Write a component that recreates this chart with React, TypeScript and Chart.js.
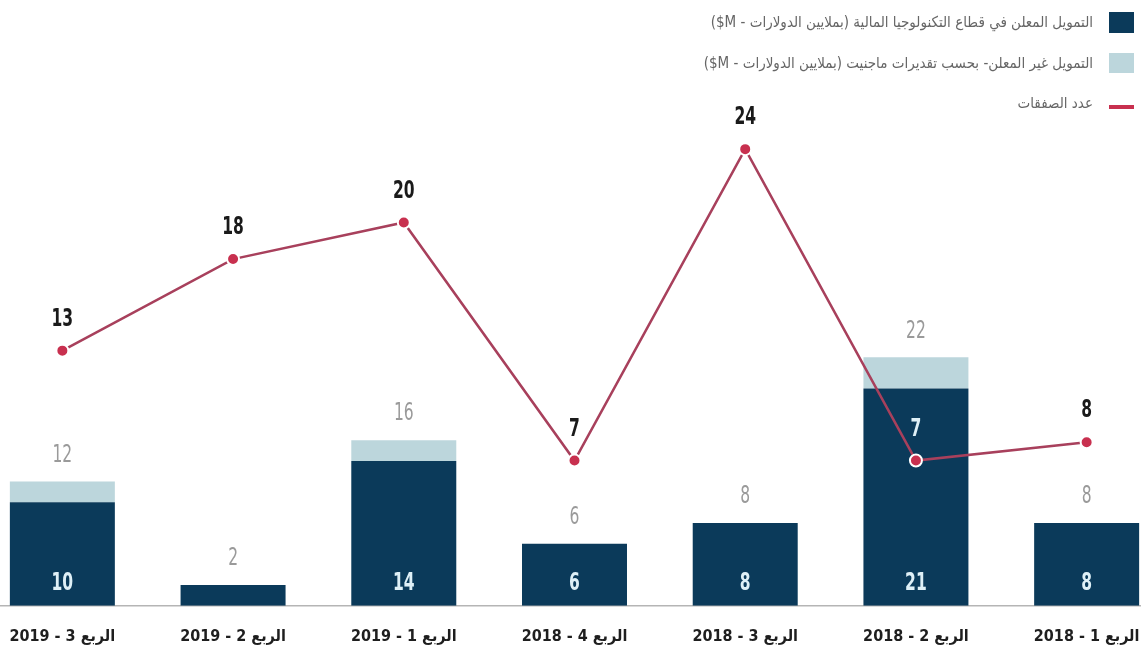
import React, { useEffect, useRef } from "react";
import { Chart, registerables } from "chart.js";
Chart.register(...registerables);

const categories = [
  "الربع 3 - 2019",
  "الربع 2 - 2019",
  "الربع 1 - 2019",
  "الربع 4 - 2018",
  "الربع 3 - 2018",
  "الربع 2 - 2018",
  "الربع 1 - 2018",
];
const disclosed = [10, 2, 14, 6, 8, 21, 8];
const undisclosed = [2, 0, 2, 0, 0, 3, 0];
const totalLabels = [12, 2, 16, 6, 8, 22, 8];
const deals = [13, 18, 20, 7, 24, 7, 8];
const seriesNames = [
  "التمويل المعلن في قطاع التكنولوجيا المالية (بملايين الدولارات - \u200E$M)",
  "التمويل غير المعلن- بحسب تقديرات ماجنيت  (بملايين الدولارات - \u200E$M)",
  "عدد الصفقات",
];

const NAVY = "#0b3a5a";
const LIGHT = "#bcd6dc";
const LINE = "#a8405c";
const DOT = "#c8304f";
const NUM_FONT = "'DejaVu Sans Condensed', 'DejaVu Sans', sans-serif";
const TICK_FONT = "'DejaVu Sans Condensed', 'DejaVu Sans', sans-serif";

function drawNum(ctx: CanvasRenderingContext2D, text: string, x: number, y: number, bold: boolean, color: string) {
  ctx.save();
  ctx.translate(x, y);
  ctx.scale(0.72, 1);
  ctx.font = (bold ? "bold " : "") + "24px " + NUM_FONT;
  ctx.fillStyle = color;
  ctx.textAlign = "center";
  ctx.textBaseline = "middle";
  ctx.fillText(text, 0, 0);
  ctx.restore();
}

export default function App() {
  const ref = useRef<HTMLCanvasElement>(null);

  useEffect(() => {
    const canvas = ref.current!;
    const labelPlugin = {
      id: "valueLabels",
      afterDatasetsDraw(chart: any) {
        const ctx = chart.ctx;
        const m0 = chart.getDatasetMeta(0);
        const m1 = chart.getDatasetMeta(1);
        const m2 = chart.getDatasetMeta(2);
        categories.forEach((_, i) => {
          const b0 = m0.data[i] as any;
          const b1 = m1.data[i] as any;
          const h = b0.base - b0.y;
          if (h > 40) {
            drawNum(ctx, String(disclosed[i]), b0.x, b0.base - 22, true, "#dff0f7");
          }
          drawNum(ctx, String(totalLabels[i]), b0.x, Math.min(b0.y, b1.y) - 26, false, "#9a9a9a");
          const p = m2.data[i] as any;
          const ly = p.y - 31;
          const onBar = ly > b0.y && ly < b0.base && Math.abs(p.x - b0.x) < 50;
          drawNum(ctx, String(deals[i]), p.x, ly, true, onBar ? "#dff0f7" : "#1a1a1a");
        });
      },
    };

    const chart = new Chart(canvas, {
      type: "bar",
      data: {
        labels: categories,
        datasets: [
          {
            type: "bar",
            label: seriesNames[0],
            data: disclosed,
            backgroundColor: NAVY,
            yAxisID: "y",
            stack: "s",
            order: 2,
            barPercentage: 1,
            categoryPercentage: 0.615,
          },
          {
            type: "bar",
            label: seriesNames[1],
            data: undisclosed,
            backgroundColor: LIGHT,
            yAxisID: "y",
            stack: "s",
            order: 2,
            barPercentage: 1,
            categoryPercentage: 0.615,
          },
          {
            type: "line",
            label: seriesNames[2],
            data: deals,
            yAxisID: "y1",
            borderColor: LINE,
            borderWidth: 2.5,
            pointRadius: 6,
            pointBackgroundColor: DOT,
            pointBorderColor: "#ffffff",
            pointBorderWidth: 2,
            tension: 0,
            order: 0,
          } as any,
        ],
      },
      options: {
        responsive: false,
        animation: false,
        layout: { autoPadding: false, padding: { top: 140, bottom: 0, left: 0, right: 0 } },
        plugins: { legend: { display: false }, tooltip: { enabled: false } },
        scales: {
          x: {
            stacked: true,
            grid: { display: false, drawTicks: false },
            border: { display: true, color: "#b5b5b5", width: 1.5 },
            ticks: {
              padding: 21,
              color: "#1e1e1e",
              font: { family: TICK_FONT, size: 16, weight: "bold" },
            },
          },
          y: { stacked: true, display: false, min: 0, max: 45 },
          y1: { display: false, min: -0.93, max: 24.5 },
        },
      } as any,
      plugins: [labelPlugin],
    });
    return () => chart.destroy();
  }, []);

  const legendItems = [
    { name: seriesNames[0], color: NAVY, boxTop: 12, boxH: 21, textTop: 12 },
    { name: seriesNames[1], color: LIGHT, boxTop: 53, boxH: 20, textTop: 53 },
    { name: seriesNames[2], color: DOT, boxTop: 105, boxH: 4, textTop: 93 },
  ];

  return (
    <div
      style={{
        position: "fixed",
        left: 0,
        top: 0,
        width: 1141,
        height: 655,
        overflow: "hidden",
        background: "#ffffff",
      }}
    >
      <canvas
        ref={ref}
        width={1195}
        height={667}
        style={{ position: "absolute", left: -23, top: 0, width: 1195, height: 667 }}
      />
      {legendItems.map((it, i) => (
        <React.Fragment key={i}>
          <div
            style={{
              position: "absolute",
              left: 1109,
              top: it.boxTop,
              width: 25,
              height: it.boxH,
              background: it.color,
            }}
          />
          <div
            dir="rtl"
            style={{
              position: "absolute",
              right: 48,
              top: it.textTop,
              lineHeight: "20px",
              fontSize: 15,
              color: "#666666",
              fontFamily: "'DejaVu Sans Condensed', 'DejaVu Sans', sans-serif",
              whiteSpace: "nowrap",
            }}
          >
            {it.name}
          </div>
        </React.Fragment>
      ))}
    </div>
  );
}
